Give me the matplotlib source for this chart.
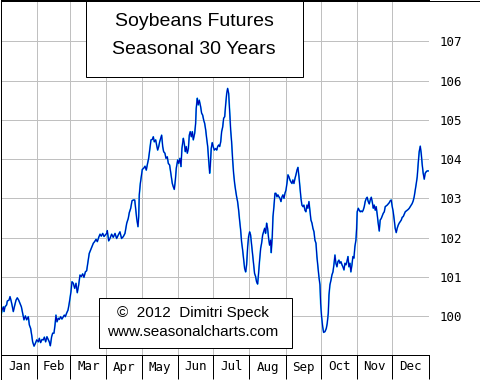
import matplotlib
matplotlib.use("Agg")
import matplotlib.pyplot as plt
from matplotlib.patches import Rectangle
import numpy as np

# seasonal pattern (day of year, index value)
jan_mar_days = [0, 0.9, 2.0, 2.6, 3.4, 4.8, 5.4, 6.8, 7.7, 8.5, 9.4, 10.5, 11.4, 12.8, 13.9,
                15.1, 16.2, 17.4, 18.5, 19.6, 20.8, 21.9, 23.3, 24.2, 25.3, 26.2, 27.0, 28.2,
                29.3, 30.5, 31.9, 32.7, 33.8, 35.0, 36.1, 37.0, 38.1, 39.2, 40.4, 41.2, 42.1,
                43.2, 44.1, 45.2, 46.1, 46.9, 47.8, 48.9, 49.8, 50.9, 52.0, 53.2, 54.0, 54.9,
                56.0, 57.2, 58.0, 58.9, 59.7, 60.6, 61.7, 62.9, 64.0, 65.1, 66.3, 67.4, 68.5,
                69.7, 70.8, 72.0, 73.1, 74.2, 75.3, 76.5, 77.6, 78.8, 79.9, 81.1, 82.2, 83.4,
                84.5, 85.6, 86.8, 87.9, 89.0, 90.2, 90.7, 91.9]
jan_mar_prices = [100.01, 100.16, 100.24, 100.12, 100.24, 100.29, 100.39, 100.41, 100.50, 100.41,
                  100.29, 100.12, 100.24, 100.41, 100.47, 100.41, 100.33, 100.24, 100.08, 99.91,
                  100.01, 99.91, 99.99, 99.78, 99.69, 99.52, 99.35, 99.24, 99.31, 99.40,
                  99.35, 99.44, 99.33, 99.41, 99.40, 99.47, 99.35, 99.48, 99.40, 99.35,
                  99.25, 99.48, 99.57, 99.57, 99.78, 100.03, 99.86, 99.95, 99.92, 99.99,
                  99.93, 99.99, 100.03, 99.99, 100.08, 100.16, 100.29, 100.46, 100.63, 100.88,
                  100.84, 100.71, 100.84, 100.60, 100.80, 101.05, 101.01, 101.08, 100.99, 101.13,
                  101.16, 101.39, 101.60, 101.69, 101.77, 101.86, 101.90, 101.96, 101.90, 102.01,
                  102.09, 102.04, 102.11, 102.03, 102.07, 102.11, 102.18, 101.92]

apr_jun_days = [93.0, 94.4, 95.8, 97.3, 98.7, 100.1, 101.5, 102.9, 104.4, 105.8, 107.3, 108.6,
                109.5, 110.7, 111.8, 112.9, 114.1, 114.6, 115.8, 116.9, 117.5, 118.0, 118.9,
                119.7, 120.6, 121.8, 122.9, 124.0, 124.8, 126.0, 127.1, 128.0, 129.1, 130.0,
                130.8, 132.0, 132.8, 133.7, 134.6, 135.4, 136.3, 137.1, 138.0, 138.8, 139.9,
                140.8, 141.9, 142.8, 143.9, 145.1, 146.2, 147.0, 147.9, 148.8, 149.6, 150.8,
                151.6, 152.7, 153.6, 154.4, 155.6, 156.4, 157.3, 158.1, 159.0, 159.9, 160.7,
                161.5, 162.4, 163.3, 164.1, 165.3, 166.1, 166.6, 167.5, 168.3, 169.2, 170.4,
                171.2, 172.1, 173.0, 173.8, 174.7, 175.5, 176.4, 177.2, 178.1, 178.6, 179.4,
                180.3, 181.1, 182.0]
apr_jun_prices = [101.98, 102.09, 102.01, 102.11, 101.98, 102.07, 102.15, 101.98, 102.03, 102.11,
                  102.37, 102.49, 102.64, 102.75, 102.94, 102.96, 102.96, 102.83, 102.49, 102.28,
                  102.53, 103.09, 103.38, 103.55, 103.74, 103.77, 103.82, 103.72, 103.85, 104.02,
                  104.27, 104.49, 104.50, 104.57, 104.44, 104.49, 104.36, 104.23, 104.32, 104.44,
                  104.53, 104.61, 104.32, 104.19, 104.15, 104.02, 104.06, 103.89, 103.85, 103.60,
                  103.38, 103.30, 103.23, 103.47, 103.77, 103.98, 103.89, 104.02, 103.81, 104.27,
                  104.53, 104.40, 104.19, 104.32, 104.15, 104.27, 104.61, 104.70, 104.57, 104.70,
                  104.49, 104.66, 104.91, 105.29, 105.55, 105.38, 105.50, 105.33, 105.17, 105.12,
                  104.99, 104.91, 104.74, 104.53, 104.32, 103.98, 103.64, 103.81, 104.27, 104.42,
                  104.32, 104.23]

jul_sep_days = [183.2, 184.1, 184.9, 185.8, 186.6, 187.5, 188.3, 189.2, 190.0, 190.9, 191.7,
                192.6, 193.4, 194.3, 194.8, 195.4, 196.0, 196.8, 197.7, 198.5, 199.4, 200.2,
                201.1, 201.9, 202.8, 203.6, 204.5, 205.3, 206.2, 207.1, 207.9, 208.8, 209.6,
                210.5, 211.3, 212.2, 213.0, 213.9, 214.7, 215.6, 216.4, 217.3, 218.1, 219.0,
                219.8, 220.7, 221.6, 222.4, 223.3, 224.1, 225.0, 225.8, 226.7, 227.5, 228.4,
                229.2, 230.1, 230.6, 231.5, 232.1, 232.9, 233.8, 234.6, 235.5, 236.3, 237.2,
                238.1, 238.9, 239.8, 240.6, 241.5, 242.3, 243.2, 244.0, 244.9, 245.7, 246.6,
                247.4, 248.3, 249.1, 250.0, 250.9, 251.7, 252.6, 253.4, 254.3, 255.1, 256.0,
                256.8, 257.7, 258.5, 259.4, 260.2, 261.1, 261.9, 262.8, 263.7, 264.5, 265.4,
                266.2, 267.1, 267.9, 268.8, 269.6, 270.5, 271.3, 272.2]
jul_sep_prices = [104.27, 104.23, 104.32, 104.36, 104.32, 104.44, 104.70, 104.82, 105.04, 105.08,
                  105.38, 105.67, 105.80, 105.67, 105.42, 105.08, 104.74, 104.44, 103.98, 103.64,
                  103.38, 103.21, 103.04, 102.92, 102.70, 102.45, 102.20, 101.90, 101.69, 101.43,
                  101.22, 101.13, 101.31, 101.77, 102.03, 102.15, 102.07, 101.81, 101.56, 101.31,
                  101.09, 101.01, 100.88, 100.82, 101.09, 101.43, 101.73, 101.86, 102.07, 102.15,
                  102.24, 102.11, 102.37, 102.24, 101.98, 101.81, 101.94, 101.62, 102.03, 102.53,
                  102.79, 103.13, 103.13, 103.04, 103.09, 103.04, 103.00, 102.92, 103.04, 103.09,
                  103.00, 103.13, 103.21, 103.38, 103.60, 103.55, 103.47, 103.42, 103.38, 103.47,
                  103.38, 103.51, 103.60, 103.72, 103.79, 103.55, 103.30, 103.00, 102.83, 102.79,
                  102.83, 102.70, 102.66, 102.83, 102.75, 102.92, 102.66, 102.45, 102.37, 102.24,
                  102.15, 101.94, 101.86, 101.52, 101.26, 101.01, 100.80]

oct_dec_days = [272.8, 273.6, 274.5, 275.3, 276.5, 277.6, 278.4, 279.3, 279.9, 280.7, 281.6,
                282.4, 283.3, 284.1, 285.0, 285.8, 286.7, 287.5, 288.4, 289.2, 290.1, 291.0,
                291.8, 292.7, 293.5, 294.4, 295.2, 296.1, 296.9, 297.8, 298.6, 299.5, 300.3,
                301.2, 302.0, 302.9, 303.5, 304.0, 304.9, 305.7, 306.6, 307.4, 308.3, 309.1,
                310.0, 310.8, 311.7, 312.5, 313.4, 314.3, 315.1, 316.0, 316.8, 317.7, 318.5,
                319.4, 320.2, 321.1, 321.9, 322.8, 323.6, 324.5, 325.3, 326.2, 327.1, 327.9,
                328.8, 329.6, 330.5, 331.3, 332.2, 333.0, 333.9, 334.7, 335.6, 336.4, 337.3,
                338.1, 339.0, 339.8, 340.7, 341.6, 342.4, 343.3, 344.1, 345.0, 345.8, 346.7,
                347.5, 348.4, 349.2, 350.1, 350.9, 351.8, 352.6, 353.5, 354.4, 355.2, 356.1,
                356.9, 357.8, 358.6, 359.5, 360.3, 361.2, 362.0, 362.9, 363.7, 364.6]
oct_dec_prices = [100.33, 99.99, 99.74, 99.59, 99.61, 99.69, 99.82, 100.08, 100.54, 100.80,
                  100.92, 101.05, 101.13, 101.31, 101.56, 101.35, 101.26, 101.39, 101.43, 101.35,
                  101.39, 101.31, 101.26, 101.18, 101.35, 101.31, 101.39, 101.52, 101.26, 101.35,
                  101.13, 101.31, 101.52, 101.48, 101.77, 101.94, 102.24, 102.66, 102.75, 102.70,
                  102.66, 102.68, 102.66, 102.70, 102.79, 102.92, 103.00, 103.03, 102.92, 102.86,
                  102.96, 103.03, 102.92, 102.75, 102.83, 102.70, 102.79, 102.58, 102.37, 102.17,
                  102.45, 102.49, 102.55, 102.62, 102.66, 102.79, 102.81, 102.83, 102.86, 102.89,
                  102.94, 102.96, 102.79, 102.66, 102.45, 102.24, 102.13, 102.24, 102.32, 102.37,
                  102.41, 102.45, 102.52, 102.54, 102.60, 102.66, 102.68, 102.70, 102.72, 102.75,
                  102.79, 102.83, 102.87, 102.94, 103.04, 103.21, 103.38, 103.55, 103.91, 104.19,
                  104.33, 104.15, 103.85, 103.64, 103.49, 103.64, 103.68, 103.70, 103.70]

months = ["Jan", "Feb", "Mar", "Apr", "May", "Jun", "Jul", "Aug", "Sep", "Oct", "Nov", "Dec"]
month_lengths = [31, 28, 31, 30, 31, 30, 31, 31, 30, 31, 30, 31]
price_ticks = [100, 101, 102, 103, 104, 105, 106, 107]
title_lines = ["Soybeans Futures", "Seasonal 30 Years"]
credit_lines = ["\u00a9  2012  Dimitri Speck", "www.seasonalcharts.com"]

days = jan_mar_days + apr_jun_days + jul_sep_days + oct_dec_days
prices = jan_mar_prices + apr_jun_prices + jul_sep_prices + oct_dec_prices

W, H = 480, 380
PX = 0.72  # one pixel in points at dpi 100


def fx(px):
    return px / W


def fy(py):  # py measured from the top
    return 1 - py / H


fig = plt.figure(figsize=(W / 100, H / 100), dpi=100)
fig.patch.set_facecolor("white")

ax = fig.add_axes([fx(1), fy(355), fx(428.7) - fx(1), fy(0) - fy(355)])
ax.set_xlim(0, 365)
ax.set_ylim(99.015, 108.05)

bounds = np.cumsum([0] + month_lengths)
ax.set_xticks(bounds)
ax.set_yticks(price_ticks)
ax.grid(True, color="#c0c0c0", lw=PX)
ax.set_axisbelow(True)

mono = "DejaVu Sans Mono"
ax.tick_params(axis="x", length=0, labelbottom=False)
ax.tick_params(axis="y", length=0, left=False, labelleft=False, right=False,
               labelright=True, pad=8, labelsize=9)
for lab in ax.get_yticklabels():
    lab.set_fontfamily(mono)

ax.spines["right"].set_visible(False)
for s in ("left", "top", "bottom"):
    ax.spines[s].set_color("black")
    ax.spines[s].set_linewidth(PX)

ax.plot(days, prices, color="#00d0ff", lw=1.2)
ax.plot(days, prices, color="#0000b4", lw=0.8)

# month strip under the plot
strip = 24 / 355
ax.vlines(bounds, -strip, 0, transform=ax.get_xaxis_transform(), color="black",
          lw=PX, clip_on=False)
for i, m in enumerate(months):
    mid = bounds[i] + month_lengths[i] / 2
    ax.text(mid, -strip / 2, m, transform=ax.get_xaxis_transform(), ha="center",
            va="center", fontsize=9, family=mono)

# title box
fig.add_artist(Rectangle((fx(85.5), fy(76.5)), fx(302.5) - fx(85.5), fy(0) - fy(76.5),
                         transform=fig.transFigure, facecolor="white", edgecolor="black",
                         lw=PX, zorder=5))
fig.text(fx(194), fy(21.5), title_lines[0], ha="center", va="center", fontsize=14,
         family="Liberation Sans", zorder=6)
fig.text(fx(194), fy(49), title_lines[1], ha="center", va="center", fontsize=14,
         family="Liberation Sans", zorder=6)

# credit box
fig.add_artist(Rectangle((fx(98.5), fy(347.5)), fx(291.5) - fx(98.5), fy(297.5) - fy(347.5),
                         transform=fig.transFigure, facecolor="white", edgecolor="black",
                         lw=PX, zorder=5))
fig.text(fx(193), fy(313), credit_lines[0], ha="center", va="center", fontsize=11,
         family="Liberation Sans", zorder=6)
fig.text(fx(193), fy(331.5), credit_lines[1], ha="center", va="center", fontsize=11,
         family="Liberation Sans", zorder=6)

# outer frame
fig.add_artist(Rectangle((0.5 / W, 0.5 / H), (W - 1) / W, (H - 1) / H, fill=False,
                         edgecolor="black", lw=PX, transform=fig.transFigure, zorder=10))

fig.savefig("out.png", dpi=100)
